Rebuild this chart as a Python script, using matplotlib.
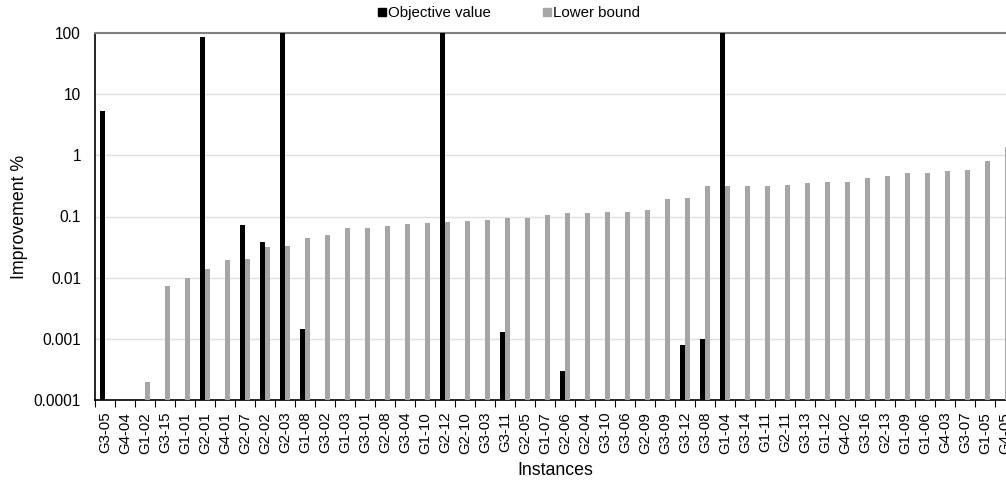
import numpy as np
import matplotlib
matplotlib.use("Agg")
import matplotlib.pyplot as plt
from matplotlib.lines import Line2D

plt.rcParams['font.family'] = ['Liberation Sans', 'DejaVu Sans']

#=========================#
#  data                   #
#=========================#
instances = ['G3-05', 'G4-04', 'G1-02', 'G3-15', 'G1-01', 'G2-01', 'G4-01', 'G2-07',
             'G2-02', 'G2-03', 'G1-08', 'G3-02', 'G1-03', 'G3-01', 'G2-08', 'G3-04',
             'G1-10', 'G2-12', 'G2-10', 'G3-03', 'G3-11', 'G2-05', 'G1-07', 'G2-06',
             'G2-04', 'G3-10', 'G3-06', 'G2-09', 'G3-09', 'G3-12', 'G3-08', 'G1-04',
             'G3-14', 'G1-11', 'G2-11', 'G3-13', 'G1-12', 'G4-02', 'G3-16', 'G2-13',
             'G1-09', 'G1-06', 'G4-03', 'G3-07', 'G1-05', 'G4-05']

nan = np.nan
objective = [5.4, nan, nan, nan, nan, 85, nan, 0.073,
             0.0385, 150, 0.00147, nan, nan, nan, nan, nan,
             nan, 150, nan, nan, 0.00128, nan, nan, 0.000294,
             nan, nan, nan, nan, nan, 0.00078, 0.00098, 150,
             nan, nan, nan, nan, nan, nan, nan, nan,
             nan, nan, nan, nan, nan, nan]

lower_bound = [nan, nan, 0.0002, 0.0073, 0.0099, 0.0141, 0.0198, 0.02,
               0.0318, 0.033, 0.0447, 0.049, 0.066, 0.066, 0.070, 0.0757,
               0.0796, 0.081, 0.0837, 0.089, 0.0938, 0.094, 0.106, 0.1146,
               0.116, 0.119, 0.12, 0.128, 0.1945, 0.202, 0.31, 0.311,
               0.321, 0.321, 0.329, 0.35, 0.36, 0.373, 0.429, 0.456,
               0.51, 0.516, 0.545, 0.579, 0.813, 1.36]

#=========================#
#  figure                 #
#=========================#
fig = plt.figure(figsize=(10.06, 4.8), dpi=100)
# plot area runs past the right edge, as in the original export
ax = fig.add_axes([95 / 1006, 80 / 480, 920 / 1006, 367 / 480])

x = np.arange(len(instances))
w = 0.25
base = 1e-4
obj = np.array(objective)
lb = np.array(lower_bound)
ax.bar(x - w / 2, obj - base, w, bottom=base, color='black', zorder=3)
ax.bar(x + w / 2, lb - base, w, bottom=base, color='#a6a6a6', zorder=3)

ax.set_yscale('log')
ax.set_ylim(1e-4, 100)
ax.set_xlim(-0.5, len(instances) - 0.5)
ax.set_yticks([1e-4, 1e-3, 1e-2, 1e-1, 1, 10, 100])
ax.set_yticklabels(['0.0001', '0.001', '0.01', '0.1', '1', '10', '100'], fontsize=11.2)
ax.minorticks_off()
ax.tick_params(axis='y', length=0, pad=10)
ax.grid(axis='y', color='#e0e0e0', linewidth=1, zorder=0)

# category ticks at the boundaries, labels at the centres
ax.set_xticks(np.arange(len(instances) + 1) - 0.5)
ax.set_xticklabels([])
ax.set_xticks(x, minor=True)
ax.set_xticklabels(instances, minor=True, rotation=90, fontsize=10.8)
ax.tick_params(axis='x', which='major', length=5, direction='out', color='black')
ax.tick_params(axis='x', which='minor', length=0, pad=8.5)

for s in ['left', 'bottom']:
    ax.spines[s].set_color('black')
    ax.spines[s].set_linewidth(1.2)
ax.spines['top'].set_color('#808080')
ax.spines['top'].set_linewidth(1.5)
ax.spines['right'].set_visible(False)

ax.set_xlabel('Instances', fontsize=12.8, labelpad=6)
ax.set_ylabel('Improvement %', fontsize=12.8, labelpad=4)

handles = [Line2D([], [], marker='s', linestyle='none', color='black', markersize=6),
           Line2D([], [], marker='s', linestyle='none', color='#a6a6a6', markersize=6)]
fig.legend(handles, ['Objective value', 'Lower bound'], loc='upper center',
           bbox_to_anchor=(0.505, 1.015), ncol=2, frameon=False, fontsize=10.8,
           handletextpad=0.0, columnspacing=3.4, handlelength=0.8)

fig.savefig('out.png', dpi=100)
